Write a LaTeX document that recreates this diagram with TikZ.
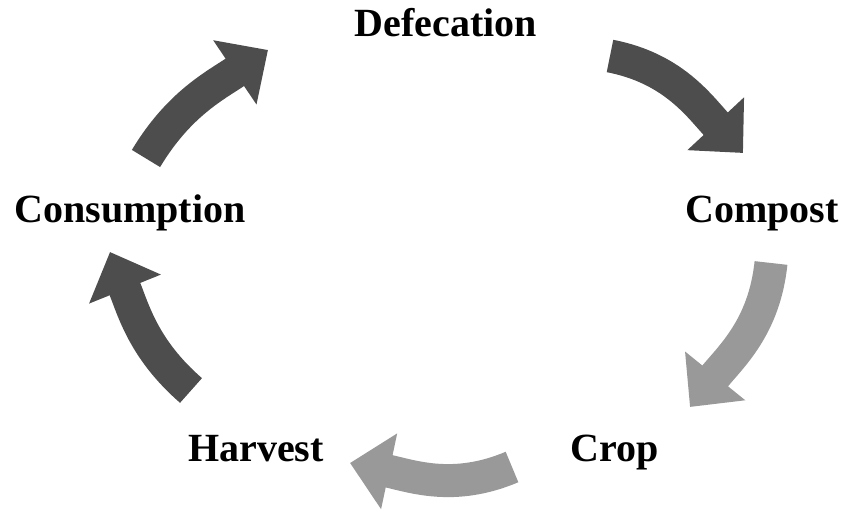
\documentclass[tikz,border=0pt]{standalone}
\usepackage{fontspec}
\setmainfont{Liberation Serif}
\usetikzlibrary{arrows.meta}
\definecolor{cycledark}{RGB}{77,77,77}
\definecolor{cyclelight}{RGB}{153,153,153}
\tikzstyle{stage} = [font=\bfseries\fontsize{28.45}{34}\selectfont, anchor=base, inner sep=0pt]
\tikzstyle{flow} = [line width=0.825cm, -{Triangle[width=1.875cm, length=1cm]}]
\tikzstyle{darkflow} = [flow, draw=cycledark]
\tikzstyle{lightflow} = [flow, draw=cyclelight]

\begin{document}
\begin{tikzpicture}[x=0.025cm, y=0.025cm]
  \useasboundingbox (0,0) rectangle (844,510);

  % stages
  \node[stage] (defecation) at (446,473) {Defecation};
  \node[stage] (compost) at (762,287) {Compost};
  \node[stage] (crop) at (615,48) {Crop};
  \node[stage] (harvest) at (256,48) {Harvest};
  \node[stage] (consumption) at (130,287) {Consumption};

  % arrow ends
  \coordinate (a1s) at (610,454);
  \coordinate (a1e) at (743,357);
  \coordinate (a2s) at (771,247);
  \coordinate (a2e) at (690,103);
  \coordinate (a3s) at (512,43);
  \coordinate (a3e) at (350,47);
  \coordinate (a4s) at (191,119.5);
  \coordinate (a4e) at (110,258);
  \coordinate (a5s) at (146,351.5);
  \coordinate (a5e) at (268,460);

  % cycle
  \draw[darkflow] (a1s) to[out=-11, in=133] (a1e);
  \draw[lightflow] (a2s) to[out=-96, in=51] (a2e);
  \draw[lightflow] (a3s) to[out=203, in=-12] (a3e);
  \draw[darkflow] (a4s) to[out=139, in=-68] (a4e);
  \draw[darkflow] (a5s) to[out=59, in=214] (a5e);
\end{tikzpicture}
\end{document}
